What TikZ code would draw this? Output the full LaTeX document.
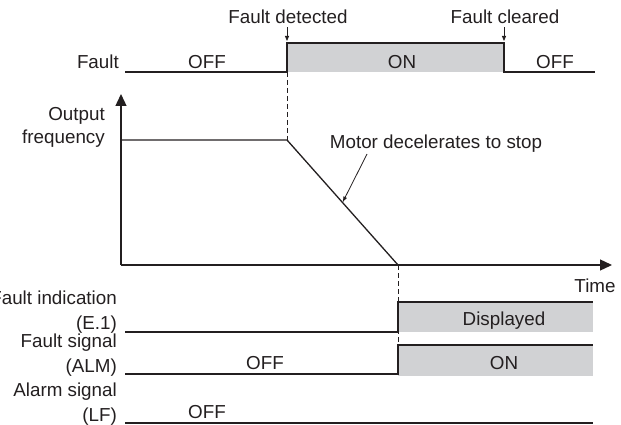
\documentclass[tikz,border=0pt]{standalone}
\usepackage{fontspec}
\setmainfont{Liberation Sans}
\usepackage{tikz}
\usetikzlibrary{arrows.meta}

\definecolor{inkgray}{RGB}{35,31,32}
\definecolor{onfill}{RGB}{209,210,212}

\begin{document}
\begin{tikzpicture}[
    x=1pt, y=-1pt,
    sig/.style={
        draw=inkgray,
        line width=1.3pt
    },
    guide/.style={
        draw=inkgray,
        line width=1pt,
        dash pattern=on 5pt off 3pt
    },
    axis/.style={
        draw=inkgray,
        line width=1.3pt,
        -{Triangle[length=12pt,width=11pt]}
    },
    onbox/.style={
        fill=onfill,
        draw=none
    },
    state/.style={
        font=\fontsize{18.8}{22}\selectfont,
        text=inkgray,
        anchor=base
    },
    siglabel/.style={
        font=\fontsize{18.8}{25}\selectfont,
        text=inkgray,
        anchor=base east,
        align=right,
        inner sep=0pt
    },
    tick/.style={
        draw=inkgray,
        line width=0.8pt,
        -{Triangle[length=5pt,width=4pt]}
    },
    leader/.style={
        draw=inkgray,
        line width=0.8pt,
        -{Latex[length=6pt,width=4pt]}
    }
]
\useasboundingbox (0,0) rectangle (621,425);

% Key points
\coordinate (origin) at (121,265);
\coordinate (fstart) at (121,140);
\coordinate (knee)   at (287,140);
\coordinate (stop)   at (398,265);
\coordinate (detpt)  at (287,41);
\coordinate (clrpt)  at (504,41);

% Grey ON regions
\fill[onbox] (287,43) rectangle (504,72);
\fill[onbox] (398,302) rectangle (593,332);
\fill[onbox] (398,345) rectangle (593,376);

% Dashed guides
\draw[guide] (287,72) -- (knee);
\draw[guide] (stop) -- (398,345);

% Fault
\node[siglabel] (lblfault) at (119,68.5) {Fault};
\draw[sig] (125,72) -| (287,43) -| (504,72) -- (595,72);
\node[state] (fltoff1) at (207,68.5) {OFF};
\node[state] (flton)   at (402,68.5) {ON};
\node[state] (fltoff2) at (555,68.5) {OFF};

% Events
\node[state] (fdet) at (288,23.5) {Fault detected};
\node[state] (fclr) at (505,23.5) {Fault cleared};
\draw[tick] (fdet.south -| detpt) -- (detpt);
\draw[tick] (fclr.south -| clrpt) -- (clrpt);

% Output frequency
\draw[axis] (origin) -- (121,94);
\draw[axis] (origin) -- (612,265);
\node[siglabel, font=\fontsize{18.8}{22.5}\selectfont] (lblfreq) at (105,143) {Output\\frequency};
\node[state] (lbltime) at (595,292.5) {Time};
\draw[sig] (fstart) -- (knee) -- (stop);
\path (knee) -- (stop) coordinate[pos=0.5] (ramp);
\node[state, inner sep=1pt] (motor) at (436,149) {Motor decelerates to stop};
\draw[leader] ([xshift=-69pt]motor.south) -- (ramp);

% Fault indication (E.1)
\node[siglabel] (lble1) at (117,329) {Fault indication\\(E.1)};
\draw[sig] (125,332) -| (398,302) -- (593,302);
\node[state] (disp) at (504,325.5) {Displayed};

% Fault signal (ALM)
\node[siglabel] (lblalm) at (117,372) {Fault signal\\(ALM)};
\draw[sig] (125,374) -| (398,345) -- (593,345);
\node[state] (almoff) at (265,369.5) {OFF};
\node[state] (almon)  at (504,369.5) {ON};

% Alarm signal (LF)
\node[siglabel] (lbllf) at (117,421) {Alarm signal\\(LF)};
\draw[sig] (125,423) -- (593,423);
\node[state] (lfoff) at (207,418.5) {OFF};

\end{tikzpicture}
\end{document}
